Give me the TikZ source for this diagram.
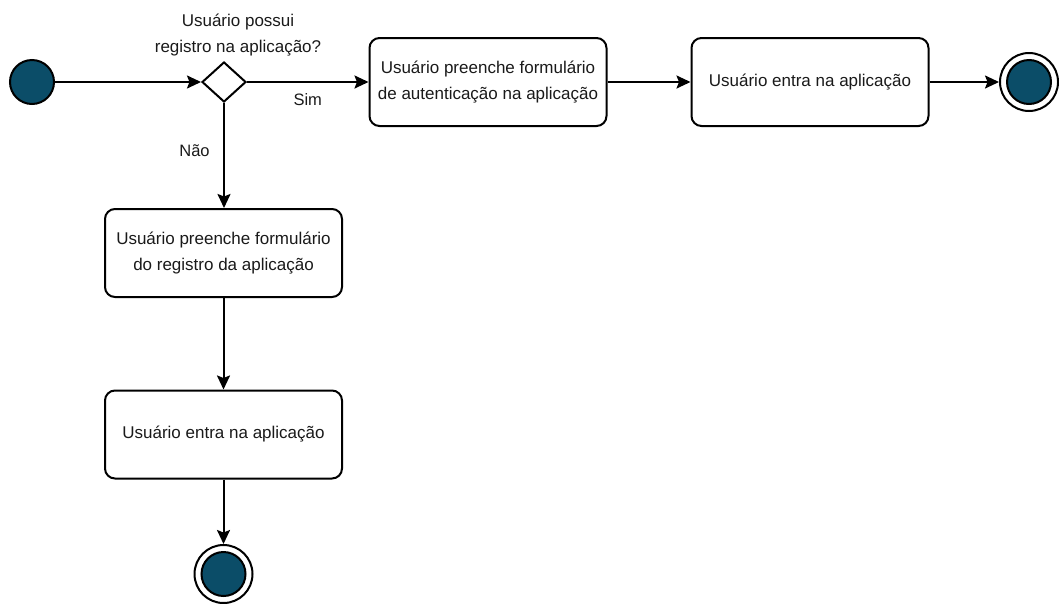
\documentclass[tikz,border=0pt]{standalone}
\usepackage{fontspec}
\setmainfont{Liberation Sans}
\usetikzlibrary{arrows.meta,shapes.geometric}
\definecolor{nodefill}{HTML}{0B4D68}
\definecolor{txt}{HTML}{1A1A1A}
\begin{document}
\begin{tikzpicture}[x=1pt,y=-1pt,
  every node/.style={font=\fontsize{17}{26}\selectfont, text=txt},
  actbox/.style={draw, line width=2pt, rounded corners=10pt, fill=white,
    minimum width=237pt, minimum height=88pt, align=center, inner sep=0pt},
  startdot/.style={circle, draw, line width=2pt, fill=nodefill, minimum size=44pt, inner sep=0pt},
  endring/.style={circle, draw, line width=2pt, fill=white, minimum size=58pt, inner sep=0pt},
  enddot/.style={circle, draw, line width=2pt, fill=nodefill, minimum size=44pt, inner sep=0pt},
  decision/.style={diamond, draw, line width=2pt, fill=white, minimum width=44pt, minimum height=40pt, inner sep=0pt},
  flow/.style={draw, line width=2pt, -{Stealth[length=14pt,width=13pt,inset=2.5pt]}},
  lbl/.style={font=\fontsize{16.5}{22}\selectfont}
]
\useasboundingbox (0,0) rectangle (1059,603);

\node[startdot] (start) at (32,82) {};
\node[decision] (dec) at (224,82) {};
\node[align=center, font=\fontsize{17}{26}\selectfont] (q) at (238,35) {Usuário possui\\registro na aplicação?};

\node[actbox] (auth) at (488,82) {Usuário preenche formulário\\de autenticação na aplicação};
\node[actbox] (enter1) at (810,82) {Usuário entra na aplicação};
\node[endring] (end1) at (1029,82) {};
\node[enddot] (end1dot) at (end1.center) {};

\node[actbox] (reg) at (223.5,253) {Usuário preenche formulário\\do registro da aplicação};
\node[actbox] (enter2) at (223.5,434.5) {Usuário entra na aplicação};
\node[endring] (end2) at (223.5,574) {};
\node[enddot] (end2dot) at (end2.center) {};

\draw[flow] (start) -- (dec);
\draw[flow] (dec) -- node[lbl, pos=0.5, below=7pt] (sim) {Sim} (auth);
\draw[flow] (auth) -- (enter1);
\draw[flow] (enter1) -- (end1);
\draw[flow] (dec.south) -- node[lbl, pos=0.45, left=10pt] (nao) {Não} (dec.south |- reg.north);
\draw[flow] (reg) -- (enter2);
\draw[flow] (enter2) -- (end2);
\end{tikzpicture}
\end{document}
